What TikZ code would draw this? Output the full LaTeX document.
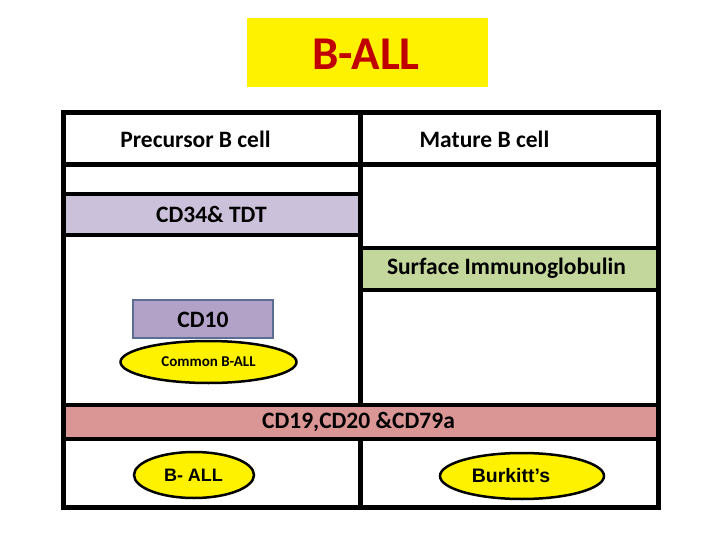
\documentclass[tikz,border=0pt]{standalone}
\usepackage{fontspec}
\setmainfont{Carlito}
\newfontfamily\arialf{Liberation Sans}
\usetikzlibrary{shapes.geometric}
\definecolor{titlered}{HTML}{C00000}
\definecolor{lav}{HTML}{CCC1DA}
\definecolor{grn}{HTML}{C3D69B}
\definecolor{pnk}{HTML}{D99694}
\definecolor{cdten}{HTML}{B3A2C7}
\definecolor{cdtenb}{HTML}{5A6E94}
\tikzset{
  gridline/.style={line width=4pt, black},
  frameline/.style={line width=5pt, black},
  lbl/.style={font=\bfseries\fontsize{23.5}{28}\selectfont, text=black, inner sep=0pt},
  oval/.style={ellipse, draw=black, line width=2.5pt, fill=yellow, inner sep=0pt},
  ovaltext/.style={font=\arialf\bfseries, inner sep=0pt}
}
\begin{document}
\begin{tikzpicture}[x=1pt,y=-1pt]
\useasboundingbox (0,0) rectangle (720,540);
% title
\node[fill=yellow, minimum width=241pt, minimum height=69pt, inner sep=0pt] (titlebox) at (367,52.5) {};
\node[font=\bfseries\fontsize{47}{50}\selectfont, text=titlered, inner sep=0pt] (title) at (366,54) {B-ALL};
% fills
\fill[lav] (64,194) rectangle (360,235);
\fill[grn] (360,248) rectangle (658,290);
\fill[pnk] (64,404.5) rectangle (658,439);
% grid lines
\draw[gridline] (64,194) -- (360,194);
\draw[gridline] (64,235) -- (360,235);
\draw[gridline] (360,248) -- (658,248);
\draw[gridline] (360,290) -- (658,290);
\draw[gridline] (64,404.5) -- (658,404.5);
\draw[gridline] (64,439) -- (658,439);
\draw[frameline] (64,164.5) -- (658,164.5);
\draw[frameline] (360,113) -- (360,404.5);
\draw[frameline] (360,439) -- (360,507.5);
\draw[frameline] (63.5,113) rectangle (658,507.5);
% labels
\node[lbl] (pre) at (195.5,139) {Precursor B cell};
\node[lbl] (mat) at (484.5,139) {Mature B cell};
\node[lbl] (cd34) at (211.5,214) {CD34\& TDT};
\node[lbl] (sig) at (506.5,268) {Surface Immunoglobulin};
\node[lbl] (cd19) at (358.5,421.5) {CD19,CD20 \&CD79a};
% CD10 and common B-ALL
\node[draw=cdtenb, fill=cdten, line width=2pt, minimum width=140pt, minimum height=38pt, inner sep=0pt] (cd10box) at (203,319) {};
\node[lbl] (cd10) at (203,320) {CD10};
\node[oval, minimum width=176pt, minimum height=42pt] (common) at (208.5,362) {};
\node[font=\bfseries\fontsize{15}{18}\selectfont, inner sep=0pt] (commont) at (208.5,362) {Common B-ALL};
% bottom ovals
\node[oval, minimum width=120pt, minimum height=46pt] (ball) at (194,475) {};
\node[ovaltext, font=\arialf\bfseries\fontsize{18}{21}\selectfont] (ballt) at (193.5,475) {B- ALL};
\node[oval, minimum width=164pt, minimum height=46pt] (burk) at (522,476) {};
\node[ovaltext, font=\arialf\bfseries\fontsize{19.5}{23}\selectfont] (burkt) at (511,476) {Burkitt’s};
\end{tikzpicture}
\end{document}
